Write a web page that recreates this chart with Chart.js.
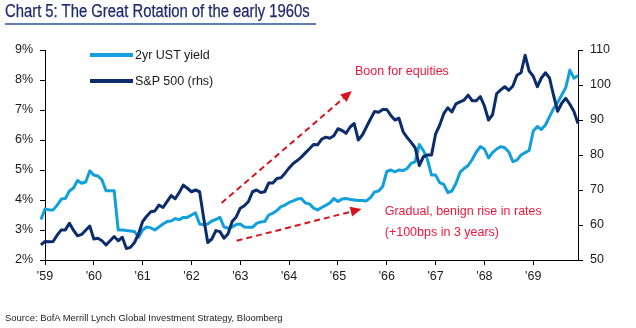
<!DOCTYPE html>
<html><head><meta charset="utf-8">
<script src="https://cdn.jsdelivr.net/npm/chart.js@4/dist/chart.umd.min.js"></script>
<style>
html,body{margin:0;padding:0;background:#fff;}
#wrap{position:relative;width:636px;height:328px;overflow:hidden;background:#fff;}
#c{position:absolute;left:0;top:0;}
.title{position:absolute;left:5px;top:1px;font-family:'Liberation Sans',Arial,sans-serif;font-size:17.5px;color:#1f2b6c;white-space:nowrap;transform-origin:0 0;-webkit-text-stroke:0.25px #1f2b6c;}
.rule{position:absolute;left:5px;top:23px;width:311px;height:2px;background:#5b7eb4;}
.source{position:absolute;left:5px;top:312px;font-family:'Liberation Sans',Arial,sans-serif;font-size:9.45px;color:#222;white-space:nowrap;}
.lg{position:absolute;font-family:'Liberation Sans',Arial,sans-serif;font-size:12.5px;color:#1a1a1a;white-space:nowrap;}
.sw{position:absolute;height:4px;width:43px;}
</style></head>
<body>
<div id="wrap">
<canvas id="c" width="636" height="328"></canvas>
<div class="title" id="title">Chart 5: The Great Rotation of the early 1960s</div>
<div class="rule"></div>
<div class="sw" style="left:90px;top:53px;background:#11a0db;"></div>
<div class="lg" style="left:135px;top:48px;">2yr UST yield</div>
<div class="sw" style="left:90px;top:79px;background:#0c2d6b;"></div>
<div class="lg" style="left:135px;top:74px;">S&amp;P 500 (rhs)</div>
<div class="source">Source: BofA Merrill Lynch Global Investment Strategy, Bloomberg</div>
</div>
<script>
// Monthly data, Dec 1958 (index -1) to Jan 1970
const firstMonth = -1;
const tickMonths = [0,12,24,36,48,60,72,84,96,108,120];
const tickLabels = ["'59","'60","'61","'62","'63","'64","'65","'66","'67","'68","'69"];
const ust2y = [
 3.35,3.7,3.67,3.67,3.83,4.03,4.05,4.3,4.4,4.65,4.56,4.6,4.97,
 4.83,4.8,4.67,4.31,4.31,4.31,3.0,3.0,2.98,2.97,2.95,2.76,
 3.0,3.1,3.07,3.0,3.1,3.2,3.28,3.3,3.38,3.34,3.42,3.42,
 3.5,3.57,3.2,3.17,3.2,3.3,3.35,3.42,3.1,3.06,3.1,3.18,
 3.2,3.1,3.09,3.09,3.22,3.27,3.28,3.5,3.56,3.65,3.78,3.83,
 3.92,3.97,4.03,4.05,3.9,3.87,3.73,3.67,3.75,3.82,3.9,4.05,
 3.95,4.03,4.05,4.02,4.0,3.98,3.98,3.97,4.08,4.27,4.3,4.45,
 4.95,5.0,4.94,5.0,4.98,5.05,5.22,5.28,5.85,5.65,5.35,4.83,
 4.83,4.58,4.52,4.25,4.3,4.55,4.92,5.05,5.15,5.35,5.6,5.78,
 5.7,5.4,5.58,5.7,5.78,5.74,5.6,5.28,5.33,5.5,5.58,5.65,
 6.3,6.45,6.35,6.5,6.78,7.05,7.25,7.5,7.75,8.33,8.06,8.15,8.55
];
const sp500 = [
 54.3,55.3,55.2,55.3,57.1,58.6,58.6,60.5,58.5,56.9,57.3,58.5,59.7,
 56,56.2,55.5,54.3,55.5,56.7,55.5,56.5,53.3,53.6,55,57.5,
 61,62.5,63.8,64,65.7,65,66.7,68.4,67.5,69.3,71.4,70.5,
 69.5,70,69.5,62,55,56,58.4,58.1,56.2,57.5,61,62.3,
 64.8,65.5,66.7,69.5,70,69.3,69.5,72,72,73.3,73.5,74.8,
 76.3,77.6,78.4,79.4,80.6,81.8,83,82.9,84.5,85.1,84.8,85.5,
 87.5,87,86.2,88,89,84.3,85.7,88,90.3,92.4,92.2,93,
 93,91.3,90,90.5,86.7,85,83.6,82,77,79.5,80,80,
 86,88.5,91.8,93.5,92.3,94.6,95.2,95.7,97.1,95.5,95.5,96.7,
 94,90,91.5,97.5,98.6,99.5,98.5,99.7,102.8,103.5,108.5,104,
 102.5,99.5,102,103.5,102,97,92.5,94.8,96.2,94.5,92.4,89,85
];
const seriesNames = ['2yr UST yield','S&P 500 (rhs)'];

// annotations in data units (month index, % on left axis)
const arrows = [
 {from:[43.4,3.9], to:[75.4,7.63]},
 {from:[47.1,2.64], to:[77.8,3.7]}
];
const notes = [
 {text:'Boon for equities', at:[76.2,8.27]},
 {text:'Gradual, benign rise in rates', at:[83.5,3.6]},
 {text:'(+100bps in 3 years)', at:[83.5,2.9]}
];

// condense the title to the reference's narrow face
const t=document.getElementById('title');
t.style.transform='scaleX('+(305/t.offsetWidth)+')';

const LB='#11a0db', DB='#0c2d6b', RED='#d7141e', REDT='#f5163c', TXT='#1a1a1a';
const tickFont={family:'Liberation Sans, Arial, sans-serif', size:12.5};

const annot={id:'annot',afterDatasetsDraw(chart){
 const ctx=chart.ctx, x=chart.scales.x, y=chart.scales.y;
 ctx.save();
 arrows.forEach(a=>{
  const x0=x.getPixelForValue(a.from[0]), y0=y.getPixelForValue(a.from[1]);
  const x1=x.getPixelForValue(a.to[0]), y1=y.getPixelForValue(a.to[1]);
  const ang=Math.atan2(y1-y0,x1-x0), L=11, W=5;
  const bx=x1-L*Math.cos(ang), by=y1-L*Math.sin(ang);
  ctx.strokeStyle=RED; ctx.lineWidth=2; ctx.setLineDash([6,4]);
  ctx.beginPath(); ctx.moveTo(x0,y0); ctx.lineTo(bx,by); ctx.stroke();
  ctx.setLineDash([]); ctx.fillStyle=RED;
  ctx.beginPath(); ctx.moveTo(x1,y1);
  ctx.lineTo(bx+W*Math.sin(ang), by-W*Math.cos(ang));
  ctx.lineTo(bx-W*Math.sin(ang), by+W*Math.cos(ang));
  ctx.closePath(); ctx.fill();
 });
 ctx.font='12.5px "Liberation Sans", Arial, sans-serif';
 ctx.fillStyle=REDT; ctx.textBaseline='middle'; ctx.textAlign='left';
 notes.forEach(n=>ctx.fillText(n.text, x.getPixelForValue(n.at[0]), y.getPixelForValue(n.at[1])));
 ctx.restore();
}};

new Chart(document.getElementById('c'),{
 type:'line',
 data:{datasets:[
  {label:seriesNames[0], data:ust2y.map((v,i)=>({x:i+firstMonth,y:v})), yAxisID:'y',
   borderColor:LB, borderWidth:3, pointRadius:0, tension:0, clip:false, order:1, borderJoinStyle:'round'},
  {label:seriesNames[1], data:sp500.map((v,i)=>({x:i+firstMonth,y:v})), yAxisID:'y1',
   borderColor:DB, borderWidth:3, pointRadius:0, tension:0, clip:false, order:0, borderJoinStyle:'round'}
 ]},
 options:{
  responsive:false, animation:false, devicePixelRatio:1,
  layout:{padding:{top:50,left:0,right:0,bottom:0}},
  plugins:{legend:{display:false}, tooltip:{enabled:false}},
  scales:{
   x:{type:'linear', min:0, max:131,
      afterBuildTicks:s=>{s.ticks=tickMonths.map(v=>({value:v}));},
      ticks:{callback:(v,i)=>tickLabels[i], font:tickFont, color:TXT, padding:4, maxRotation:0, autoSkip:false},
      grid:{drawOnChartArea:false, tickLength:5, color:'#000'},
      border:{color:'#000', width:1},
      afterFit:s=>{s.height=68;}},
   y:{position:'left', min:2, max:9,
      ticks:{stepSize:1, callback:v=>v+'%', font:tickFont, color:TXT, padding:7},
      grid:{drawOnChartArea:false, tickLength:5, color:'#000'},
      border:{color:'#000', width:1},
      afterFit:s=>{s.width=45;}},
   y1:{position:'right', min:50, max:110,
      ticks:{stepSize:10, font:tickFont, color:TXT, padding:7},
      grid:{drawOnChartArea:false, tickLength:5, color:'#000'},
      border:{color:'#000', width:1},
      afterFit:s=>{s.width=58;}}
  }
 },
 plugins:[annot]
});
</script>
</body></html>
